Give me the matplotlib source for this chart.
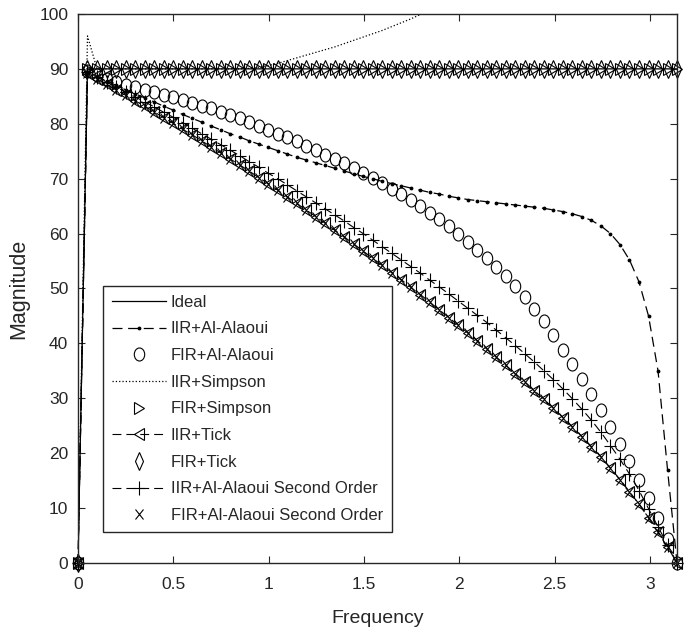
"""
Phase of several digital differentiators (IIR and FIR designs)
compared with the ideal differentiator.
"""

############## MODULES IMPORTATION ###############

import numpy as np
import matplotlib
matplotlib.use("Agg")
import matplotlib.pyplot as plt
from matplotlib.markers import MarkerStyle
from matplotlib.transforms import Affine2D

##################################################

# frequency grid (rad/sample), 64 points from 0 to pi
w = np.linspace(0, np.pi, 64)

ideal = [0] + [90] * 63

iir_alaoui = [0, 89.5, 88.6, 87.8, 87.0, 86.2, 85.5, 84.7, 84.0, 83.2,
              82.5, 81.7, 81.0, 80.3, 79.6, 78.9, 78.2, 77.6, 76.9, 76.3,
              75.7, 75.1, 74.5, 73.9, 73.4, 72.9, 72.4, 71.9, 71.4, 70.9,
              70.4, 70.0, 69.5, 69.1, 68.7, 68.3, 67.9, 67.5, 67.2, 66.8,
              66.5, 66.2, 66.0, 65.8, 65.6, 65.4, 65.2, 65.0, 64.8, 64.6,
              64.3, 64.0, 63.6, 63.1, 62.4, 61.4, 60.0, 58.0, 55.2, 51.2,
              45.0, 35.0, 17.0, 0]

fir_alaoui = [0, 89.6, 88.8, 88.2, 87.6, 87.1, 86.7, 86.2, 85.8, 85.3,
              84.9, 84.3, 83.8, 83.3, 82.8, 82.2, 81.6, 81.0, 80.3, 79.6,
              78.9, 78.2, 77.5, 76.8, 76.0, 75.2, 74.4, 73.6, 72.8, 71.9,
              71.0, 70.1, 69.2, 68.2, 67.2, 66.1, 65.0, 63.8, 62.6, 61.3,
              59.9, 58.5, 57.0, 55.5, 53.9, 52.2, 50.4, 48.5, 46.3, 44.0,
              41.5, 38.8, 36.2, 33.5, 30.7, 27.8, 24.8, 21.7, 18.5, 15.2,
              11.8, 8.2, 4.4, 0]

# goes off the top of the plot after ~1.8 rad
iir_simpson = [0, 96.0] + [90.0] * 16 + \
              [90.1, 90.3, 90.6, 91.0, 91.5, 92.0, 92.5, 93.0, 93.5, 94.0,
               94.6, 95.2, 95.8, 96.4, 97.0, 97.7, 98.4, 99.1, 99.9, 100.8] + \
              [np.nan] * 26

fir_simpson = [0] + [90] * 63

iir_tick = [0, 89.2, 88.2, 87.2, 86.2, 85.2, 84.2, 83.2, 82.2, 81.1,
            80.1, 79.0, 78.0, 76.9, 75.8, 74.7, 73.6, 72.5, 71.4, 70.2,
            69.1, 67.9, 66.7, 65.5, 64.3, 63.1, 61.9, 60.6, 59.4, 58.1,
            56.8, 55.5, 54.2, 52.9, 51.6, 50.2, 48.9, 47.5, 46.1, 44.7,
            43.3, 41.9, 40.5, 39.0, 37.5, 36.0, 34.5, 33.0, 31.4, 29.8,
            28.2, 26.5, 24.8, 23.0, 21.2, 19.3, 17.3, 15.2, 13.0, 10.7,
            8.2, 5.6, 2.9, 0]

fir_tick = [0] + [90] * 63

iir_alaoui2 = [0, 89.4, 88.5, 87.6, 86.7, 85.8, 84.9, 84.0, 83.1, 82.1,
               81.2, 80.2, 79.2, 78.2, 77.2, 76.2, 75.2, 74.2, 73.1, 72.1,
               71.0, 70.0, 68.9, 67.8, 66.7, 65.6, 64.5, 63.4, 62.3, 61.1,
               60.0, 58.8, 57.6, 56.4, 55.2, 54.0, 52.8, 51.5, 50.3, 49.0,
               47.7, 46.4, 45.1, 43.8, 42.4, 41.0, 39.6, 38.1, 36.6, 35.0,
               33.4, 31.7, 29.9, 28.0, 26.0, 23.8, 21.4, 18.9, 16.2, 13.2,
               9.9, 6.6, 3.3, 0]

fir_alaoui2 = [0, 89.2, 88.2, 87.2, 86.2, 85.2, 84.2, 83.2, 82.2, 81.1,
               80.1, 79.0, 78.0, 76.9, 75.8, 74.7, 73.6, 72.5, 71.4, 70.2,
               69.1, 67.9, 66.7, 65.5, 64.3, 63.1, 61.9, 60.6, 59.4, 58.1,
               56.8, 55.5, 54.2, 52.9, 51.6, 50.2, 48.9, 47.5, 46.1, 44.7,
               43.3, 41.9, 40.5, 39.0, 37.5, 36.0, 34.5, 33.0, 31.4, 29.8,
               28.2, 26.5, 24.8, 23.0, 21.2, 19.3, 17.3, 15.2, 13.0, 10.7,
               8.2, 5.6, 2.9, 0]

xticks = [0, 0.5, 1, 1.5, 2, 2.5, 3]
xticklabels = ["0", "0.5", "1", "1.5", "2", "2.5", "3"]
yticks = list(range(0, 101, 10))

##################################################

plt.rcParams["font.family"] = "Liberation Sans"

txt_col = "#262626"
dash = (8, 4.5)


def tall(m):
    # slightly elongated markers
    return MarkerStyle(m, transform=Affine2D().scale(1.0, 1.25))


fig = plt.figure(figsize=(6.87, 6.35), dpi=100)
ax = fig.add_axes([0.1135, 0.1134, 0.872, 0.8646])

mk = dict(color="k", markerfacecolor="none", markeredgewidth=0.8, lw=0.8,
          clip_on=False)

ax.plot(w, ideal, "-", color="k", lw=0.9, label="Ideal")
ax.plot(w, iir_alaoui, "--", marker=".", markersize=3.5, color="k", lw=0.9,
        dashes=dash, label="IIR+Al-Alaoui")
ax.plot(w, fir_alaoui, ls="none", marker=tall("o"), markersize=7.5, **mk,
        label="FIR+Al-Alaoui")
ax.plot(w, iir_simpson, ":", color="k", lw=0.9, label="IIR+Simpson")
ax.plot(w, fir_simpson, ls="none", marker=tall(">"), markersize=7, **mk,
        label="FIR+Simpson")
ax.plot(w, iir_tick, "--", marker=tall("<"), markersize=7, dashes=dash, **mk,
        label="IIR+Tick")
ax.plot(w, fir_tick, ls="none", marker=tall("d"), markersize=7, **mk,
        label="FIR+Tick")
ax.plot(w, iir_alaoui2, "--", marker=tall("+"), markersize=8, dashes=dash,
        **mk, label="IIR+Al-Alaoui Second Order")
ax.plot(w, fir_alaoui2, ls="none", marker=tall("x"), markersize=6, **mk,
        label="FIR+Al-Alaoui Second Order")

ax.set_xlim(0, np.pi)
ax.set_ylim(0, 100)
ax.set_xticks(xticks)
ax.set_xticklabels(xticklabels)
ax.set_yticks(yticks)
ax.tick_params(direction="in", length=5, width=0.8, top=True, right=True,
               labelsize=12.5, colors=txt_col)
ax.tick_params(axis="x", pad=10)
ax.tick_params(axis="y", pad=7)
for s in ax.spines.values():
    s.set_color(txt_col)
    s.set_linewidth(1.0)

ax.set_xlabel("Frequency", fontsize=14, color=txt_col, labelpad=13)
ax.set_ylabel("Magnitude", fontsize=15.5, color=txt_col, labelpad=7)

leg = ax.legend(loc="lower left", bbox_to_anchor=(0.042, 0.056),
                fontsize=12, fancybox=False, framealpha=1, edgecolor=txt_col,
                handlelength=3.2, handletextpad=0.3, labelspacing=0.7,
                borderpad=0.55, borderaxespad=0)
leg.get_frame().set_linewidth(1.0)
for t in leg.get_texts():
    t.set_color(txt_col)

fig.savefig("out.png", dpi=100)
